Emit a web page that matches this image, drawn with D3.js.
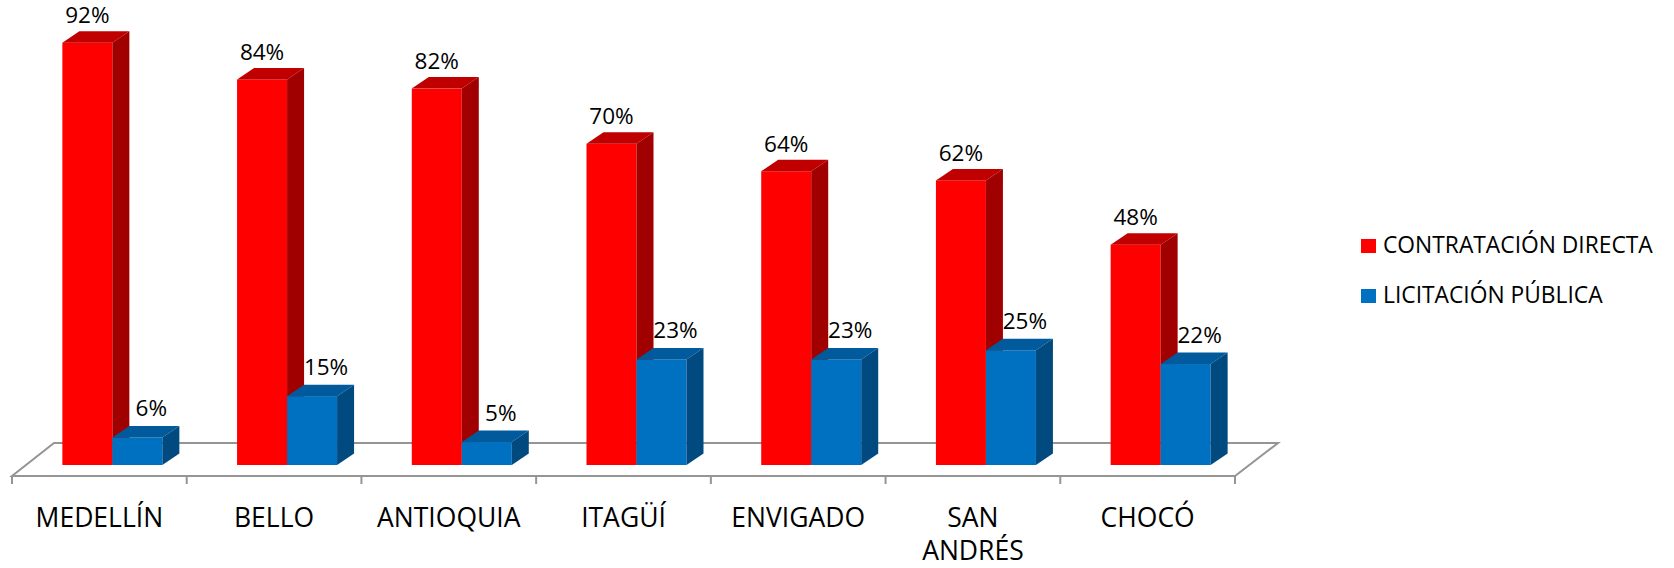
<!DOCTYPE html>
<html>
<head>
<meta charset="utf-8">
<script src="https://cdn.jsdelivr.net/npm/d3@7"></script>
<style>
  html, body { margin: 0; padding: 0; background: #fff; }
  svg { display: block; }
  text { font-family: "Open Sans", sans-serif; fill: #000; }
</style>
</head>
<body>
<svg id="chart" width="1674" height="568"></svg>
<script>
const categories = ["MEDELLÍN", "BELLO", "ANTIOQUIA", "ITAGÜÍ", "ENVIGADO", "SAN ANDRÉS", "CHOCÓ"];
const seriesNames = ["CONTRATACIÓN DIRECTA", "LICITACIÓN PÚBLICA"];
const contratacionDirecta = [92, 84, 82, 70, 64, 62, 48];
const licitacionPublica = [6, 15, 5, 23, 23, 25, 22];

const seriesValues = [contratacionDirecta, licitacionPublica];
const colors = [
  { front: "#FF0000", top: "#C00000", side: "#A00000" },
  { front: "#0070C0", top: "#005A9C", side: "#004A80" }
];

const svg = d3.select("#chart");

// Geometry
const floorFrontY = 476, floorDepthX = 43, floorDepthY = -33;
const barShiftX = 13;               // bars sit mid-depth on the floor
const barDepthX = 17, barDepthY = -11.5;

const x = d3.scaleBand().domain(categories).range([12, 1235]).padding(0);
const xs = d3.scaleBand().domain(seriesNames).range([-50, 50]).padding(0);
const y = d3.scaleLinear().domain([0, 100]).range([465, 6]);

// Floor
const x0 = x.range()[0], x1 = x.range()[1];
const floorPts = [
  [x0, floorFrontY], [x1, floorFrontY],
  [x1 + floorDepthX, floorFrontY + floorDepthY], [x0 + floorDepthX - 1, floorFrontY + floorDepthY]
];
svg.append("path")
  .attr("d", "M" + floorPts.map(p => p.join(",")).join("L") + "Z")
  .attr("fill", "#fff")
  .attr("stroke", "#959595")
  .attr("stroke-width", 2)
  .attr("stroke-linejoin", "miter");

// Ticks at category boundaries
const bounds = categories.map(c => x(c)).concat([x1]);
svg.append("g").selectAll("line").data(bounds).join("line")
  .attr("x1", d => d).attr("x2", d => d)
  .attr("y1", floorFrontY).attr("y2", floorFrontY + 8)
  .attr("stroke", "#959595").attr("stroke-width", 2);

// Bars
const bars = [];
categories.forEach((c, i) => {
  seriesNames.forEach((s, j) => {
    bars.push({ cat: c, series: s, j: j, value: seriesValues[j][i] });
  });
});

const gBars = svg.append("g");
bars.forEach(b => {
  const cx = x(b.cat) + x.bandwidth() / 2 + barShiftX;
  const bx = cx + xs(b.series);
  const bw = xs.bandwidth();
  const yt = y(b.value), yb = y(0);
  const col = colors[b.j];
  const g = gBars.append("g");
  g.append("rect").attr("x", bx).attr("y", yt).attr("width", bw).attr("height", yb - yt)
    .attr("fill", col.front);
  g.append("path")
    .attr("d", `M${bx},${yt}L${bx + barDepthX},${yt + barDepthY}L${bx + bw + barDepthX},${yt + barDepthY}L${bx + bw},${yt}Z`)
    .attr("fill", col.top);
  g.append("path")
    .attr("d", `M${bx + bw},${yt}L${bx + bw + barDepthX},${yt + barDepthY}L${bx + bw + barDepthX},${yb + barDepthY}L${bx + bw},${yb}Z`)
    .attr("fill", col.side);
  const lx = bx + bw / 2 + (b.j === 0 ? 0 : 14);
  const ly = yt + barDepthY - (b.j === 0 ? 8 : 10);
  g.append("text")
    .attr("x", lx).attr("y", ly)
    .attr("text-anchor", "middle")
    .attr("font-size", "22.5px")
    .text(b.value + "%");
});

// Category labels (wrapped)
const catFont = 26.5;
const labelG = svg.append("g");
categories.forEach(c => {
  const t = labelG.append("text")
    .attr("x", x(c) + x.bandwidth() / 2)
    .attr("y", 527)
    .attr("text-anchor", "middle")
    .attr("font-size", catFont + "px");
  t.text(c);
  const w = t.node().getComputedTextLength();
  if (w > 150 && c.indexOf(" ") > 0) {
    t.text(null);
    c.split(" ").forEach((word, k) => {
      t.append("tspan")
        .attr("x", x(c) + x.bandwidth() / 2)
        .attr("dy", k === 0 ? 0 : 33)
        .text(word);
    });
  }
});

// Legend
const legend = svg.append("g");
seriesNames.forEach((s, j) => {
  const ly = 253 + j * 50;
  legend.append("rect")
    .attr("x", 1361).attr("y", ly - 14).attr("width", 15).attr("height", 14)
    .attr("fill", colors[j].front);
  legend.append("text")
    .attr("x", 1383).attr("y", ly)
    .attr("font-size", "22.8px")
    .text(s);
});
</script>
</body>
</html>
